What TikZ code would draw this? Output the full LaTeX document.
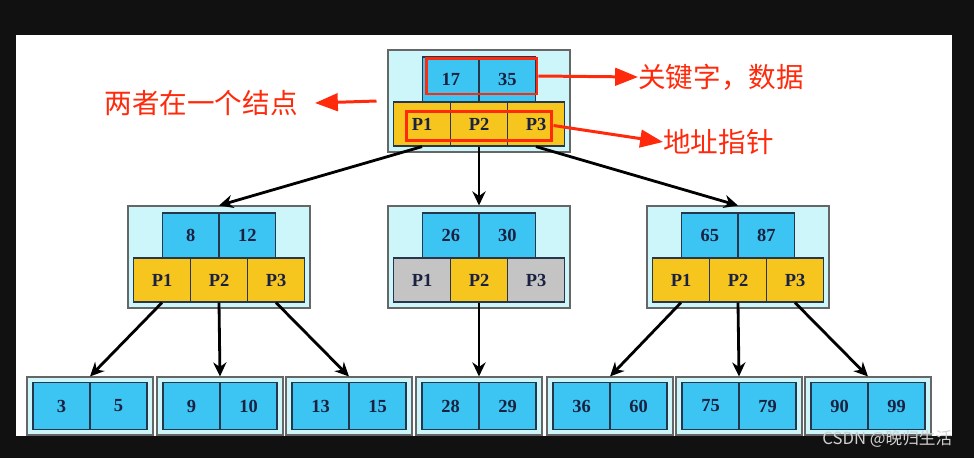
\documentclass[tikz,border=0pt]{standalone}
\usepackage{fontspec}
\setmainfont{Liberation Serif}
\newfontfamily\cjk{Noto Sans CJK SC}
\usetikzlibrary{arrows.meta}
\definecolor{frameback}{HTML}{111111}
\definecolor{nodebg}{HTML}{CCF6FA}
\definecolor{keyblue}{HTML}{3CC4F2}
\definecolor{ptryellow}{HTML}{F7C61E}
\definecolor{ptrgray}{HTML}{C4C4C4}
\definecolor{cellline}{HTML}{27364A}
\definecolor{labelred}{HTML}{FF2A0C}
\definecolor{digitink}{HTML}{1B2140}
\tikzset{
    nodebox/.style={draw=black!60, line width=0.6pt, fill=nodebg},
    internal/.style={nodebox, minimum width=3.64cm, minimum height=2.04cm},
    leaf/.style={nodebox, minimum width=2.52cm, minimum height=1.16cm},
    cell/.style={draw=cellline, line width=0.7pt, inner sep=0pt,
                 font=\fontsize{10.5}{12}\selectfont\bfseries, text=digitink},
    keycell/.style={cell, fill=keyblue, minimum width=1.13cm, minimum height=0.90cm},
    leafkey/.style={keycell, minimum width=1.14cm, minimum height=0.94cm},
    ptr/.style={cell, fill=ptryellow, minimum width=1.14cm, minimum height=0.88cm},
    link/.style={-{Stealth[length=8pt, width=7.5pt]}, line width=1.6pt},
    redframe/.style={draw=labelred, line width=1.7pt, inner sep=0pt},
    hint/.style={-{Triangle[length=13pt, width=10pt]}, color=labelred, line width=1.7pt},
    note/.style={font=\cjk\fontsize{15.7}{18}\selectfont, text=labelred, inner sep=0pt},
}

\begin{document}
\begin{tikzpicture}[x=0.02cm, y=-0.02cm]

    \useasboundingbox (0,0) rectangle (974,458);
    \fill[frameback] (0,0) rectangle (974,458);
    \fill[white] (16,35) rectangle (952,436);

    % internal nodes: two keys over three pointers
    \foreach \nm/\cx/\cy/\ka/\kb/\pa/\pc in {
            root/479/101/17/35/ptryellow/ptryellow,
            left/219/257/8/12/ptryellow/ptryellow,
            mid/479/257/26/30/ptrgray/ptrgray,
            right/738/257/65/87/ptryellow/ptryellow}{
        \node[internal] (\nm) at (\cx,\cy) {};
        \node[keycell] (\nm-k1) at (\cx-28.25,\cy-21.5) {\ka};
        \node[keycell] (\nm-k2) at (\cx+28.25,\cy-21.5) {\kb};
        \node[ptr, fill=\pa] (\nm-p1) at (\cx-57,\cy+23) {P1};
        \node[ptr] (\nm-p2) at (\cx,\cy+23) {P2};
        \node[ptr, fill=\pc] (\nm-p3) at (\cx+57,\cy+23) {P3};
    }

    % leaf nodes
    \foreach \cx/\ka/\kb [count=\i] in {90/3/5, 220/9/10, 349/13/15,
            479/28/29, 610/36/60, 739/75/79, 868/90/99}{
        \node[leaf] (leaf\i) at (\cx,406) {};
        \node[leafkey] (leaf\i-a) at (\cx-28.5,406) {\ka};
        \node[leafkey] (leaf\i-b) at (\cx+28.5,406) {\kb};
    }

    \draw[link] (root-p1.south) -- (left.north);
    \draw[link] (root-p2.south) -- (mid.north);
    \draw[link] (root-p3.south) -- (right.north);
    \foreach \from/\to in {left-p1/leaf1, left-p2/leaf2, left-p3/leaf3,
            mid-p2/leaf4, right-p1/leaf5, right-p2/leaf6, right-p3/leaf7}
        \draw[link] (\from.south) -- (\to.north);

    % red annotations
    \node[redframe, minimum width=2.22cm, minimum height=0.72cm] (keyframe) at (481.5,76) {};
    \node[redframe, minimum width=2.92cm, minimum height=0.58cm] (ptrframe) at (479,125.5) {};
    \node[note, anchor=west] (keytext) at (638,77) {关键字，数据};
    \node[note, anchor=west] (ptrtext) at (663,142) {地址指针};
    \node[note, anchor=east] (pairtext) at (298,103) {两者在一个结点};
    \draw[hint] (keyframe.east) -- (keytext.west);
    \draw[hint] (ptrframe.east) -- (ptrtext.west);
    \draw[hint] ([xshift=-0.22cm]root.west) -- ([xshift=0.34cm]pairtext.east);

    \node[font=\cjk\fontsize{9.5}{11}\selectfont, text=black!18, anchor=west,
          inner sep=0pt] (watermark) at (822,439) {CSDN @晚归生活};

\end{tikzpicture}
\end{document}
